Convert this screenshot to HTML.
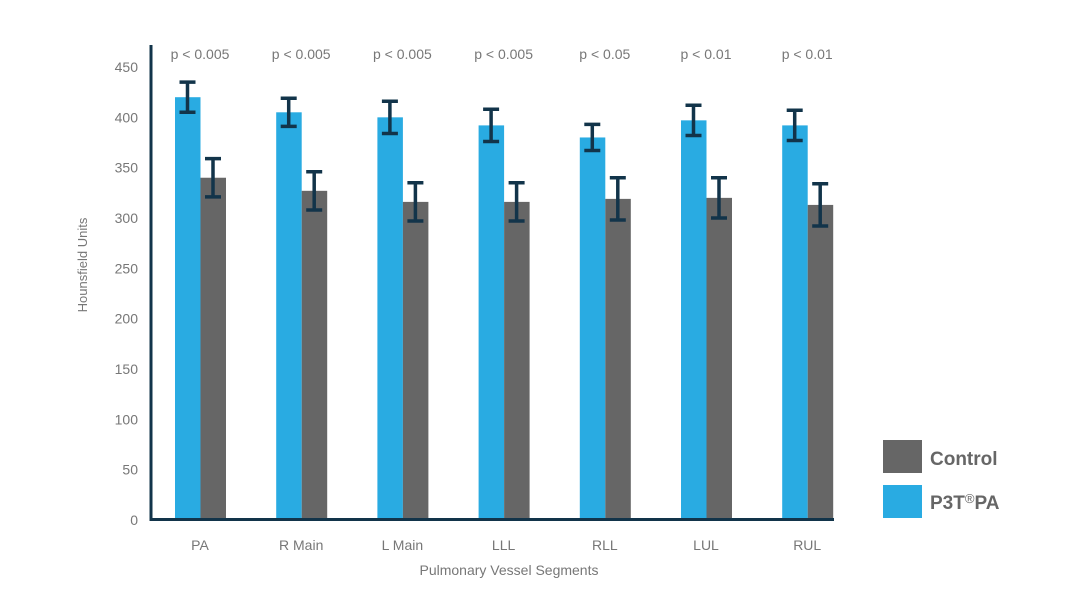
<!DOCTYPE html>
<html><head><meta charset="utf-8"><style>
body{margin:0;background:#fff;}
svg text{font-family:"Liberation Sans",sans-serif;}
</style></head><body>
<svg id="chart" width="1074" height="609" viewBox="0 0 1074 609">
<g id="g"></g>
</svg>
<script>
const categories=["PA","R Main","L Main","LLL","RLL","LUL","RUL"];
const p3tValues=[420,405,400,392,380,397,392];
const p3tErrors=[15,14,16,16,13,15,15];
const controlValues=[340,327,316,316,319,320,313];
const controlErrors=[19,19,19,19,21,20,21];
const pLabels=["p < 0.005","p < 0.005","p < 0.005","p < 0.005","p < 0.05","p < 0.01","p < 0.01"];
const yTicks=[0,50,100,150,200,250,300,350,400,450];

const NS="http://www.w3.org/2000/svg";
const g=document.getElementById('g');
const y0=520, yScale=453/450;
function y(v){return y0-v*yScale;}
function x(i){return 175+i*101.2;}
function mk(t,a,txt){const e=document.createElementNS(NS,t);for(const k in a)e.setAttribute(k,a[k]);if(txt!==undefined)e.textContent=txt;g.appendChild(e);return e;}

yTicks.forEach(t=>{const e=mk('text',{x:138,y:y(t)+5,'text-anchor':'end','font-size':14,fill:'#777'},t);

});

function errBar(cx,v,err,name){
  const e=mk('path',{d:`M${cx} ${y(v+err)}V${y(v-err)}M${cx-8} ${y(v+err)}H${cx+8}M${cx-8} ${y(v-err)}H${cx+8}`,stroke:'#12344a','stroke-width':3.5,fill:'none'});
  
  
}
categories.forEach((c,i)=>{
  const bx=x(i);
  let b=mk('rect',{x:bx,y:y(p3tValues[i]),width:25.5,height:y0-y(p3tValues[i]),fill:'#29abe2'});
  
  
  b=mk('rect',{x:bx+25.5,y:y(controlValues[i]),width:25.5,height:y0-y(controlValues[i]),fill:'#666666'});
  
  
  errBar(bx+12.5,p3tValues[i],p3tErrors[i],'error-bar-p3t');
  errBar(bx+38,controlValues[i],controlErrors[i],'error-bar-control');
  let t=mk('text',{x:bx+25,y:550,'text-anchor':'middle','font-size':14,fill:'#777'},c);
  
  
  t=mk('text',{x:bx+25,y:59,'text-anchor':'middle','font-size':14,fill:'#777'},pLabels[i]);
  
  
});
let a=mk('path',{d:'M151 45V519.5H834',stroke:'#12344a','stroke-width':3,fill:'none'});


let t=mk('text',{x:87,y:265,'text-anchor':'middle','font-size':13,fill:'#777',transform:'rotate(-90 87 265)'},'Hounsfield Units');


t=mk('text',{x:509,y:575,'text-anchor':'middle','font-size':14,fill:'#777'},'Pulmonary Vessel Segments');


let r=mk('rect',{x:883,y:440,width:39,height:33,fill:'#666666'});


r=mk('rect',{x:883,y:485,width:39,height:33,fill:'#29abe2'});


t=mk('text',{x:930,y:465,'font-size':19,'font-weight':'bold',fill:'#666'},'Control');


t=mk('text',{x:930,y:509,'font-size':19,'font-weight':'bold',fill:'#666'},'P3T');


const ts=document.createElementNS(NS,'tspan');ts.setAttribute('font-size',13);ts.setAttribute('font-weight','normal');ts.setAttribute('dy',-6);ts.textContent='®';t.appendChild(ts);
const ts2=document.createElementNS(NS,'tspan');ts2.setAttribute('dy',6);ts2.textContent='PA';t.appendChild(ts2);
</script>
</body></html>
